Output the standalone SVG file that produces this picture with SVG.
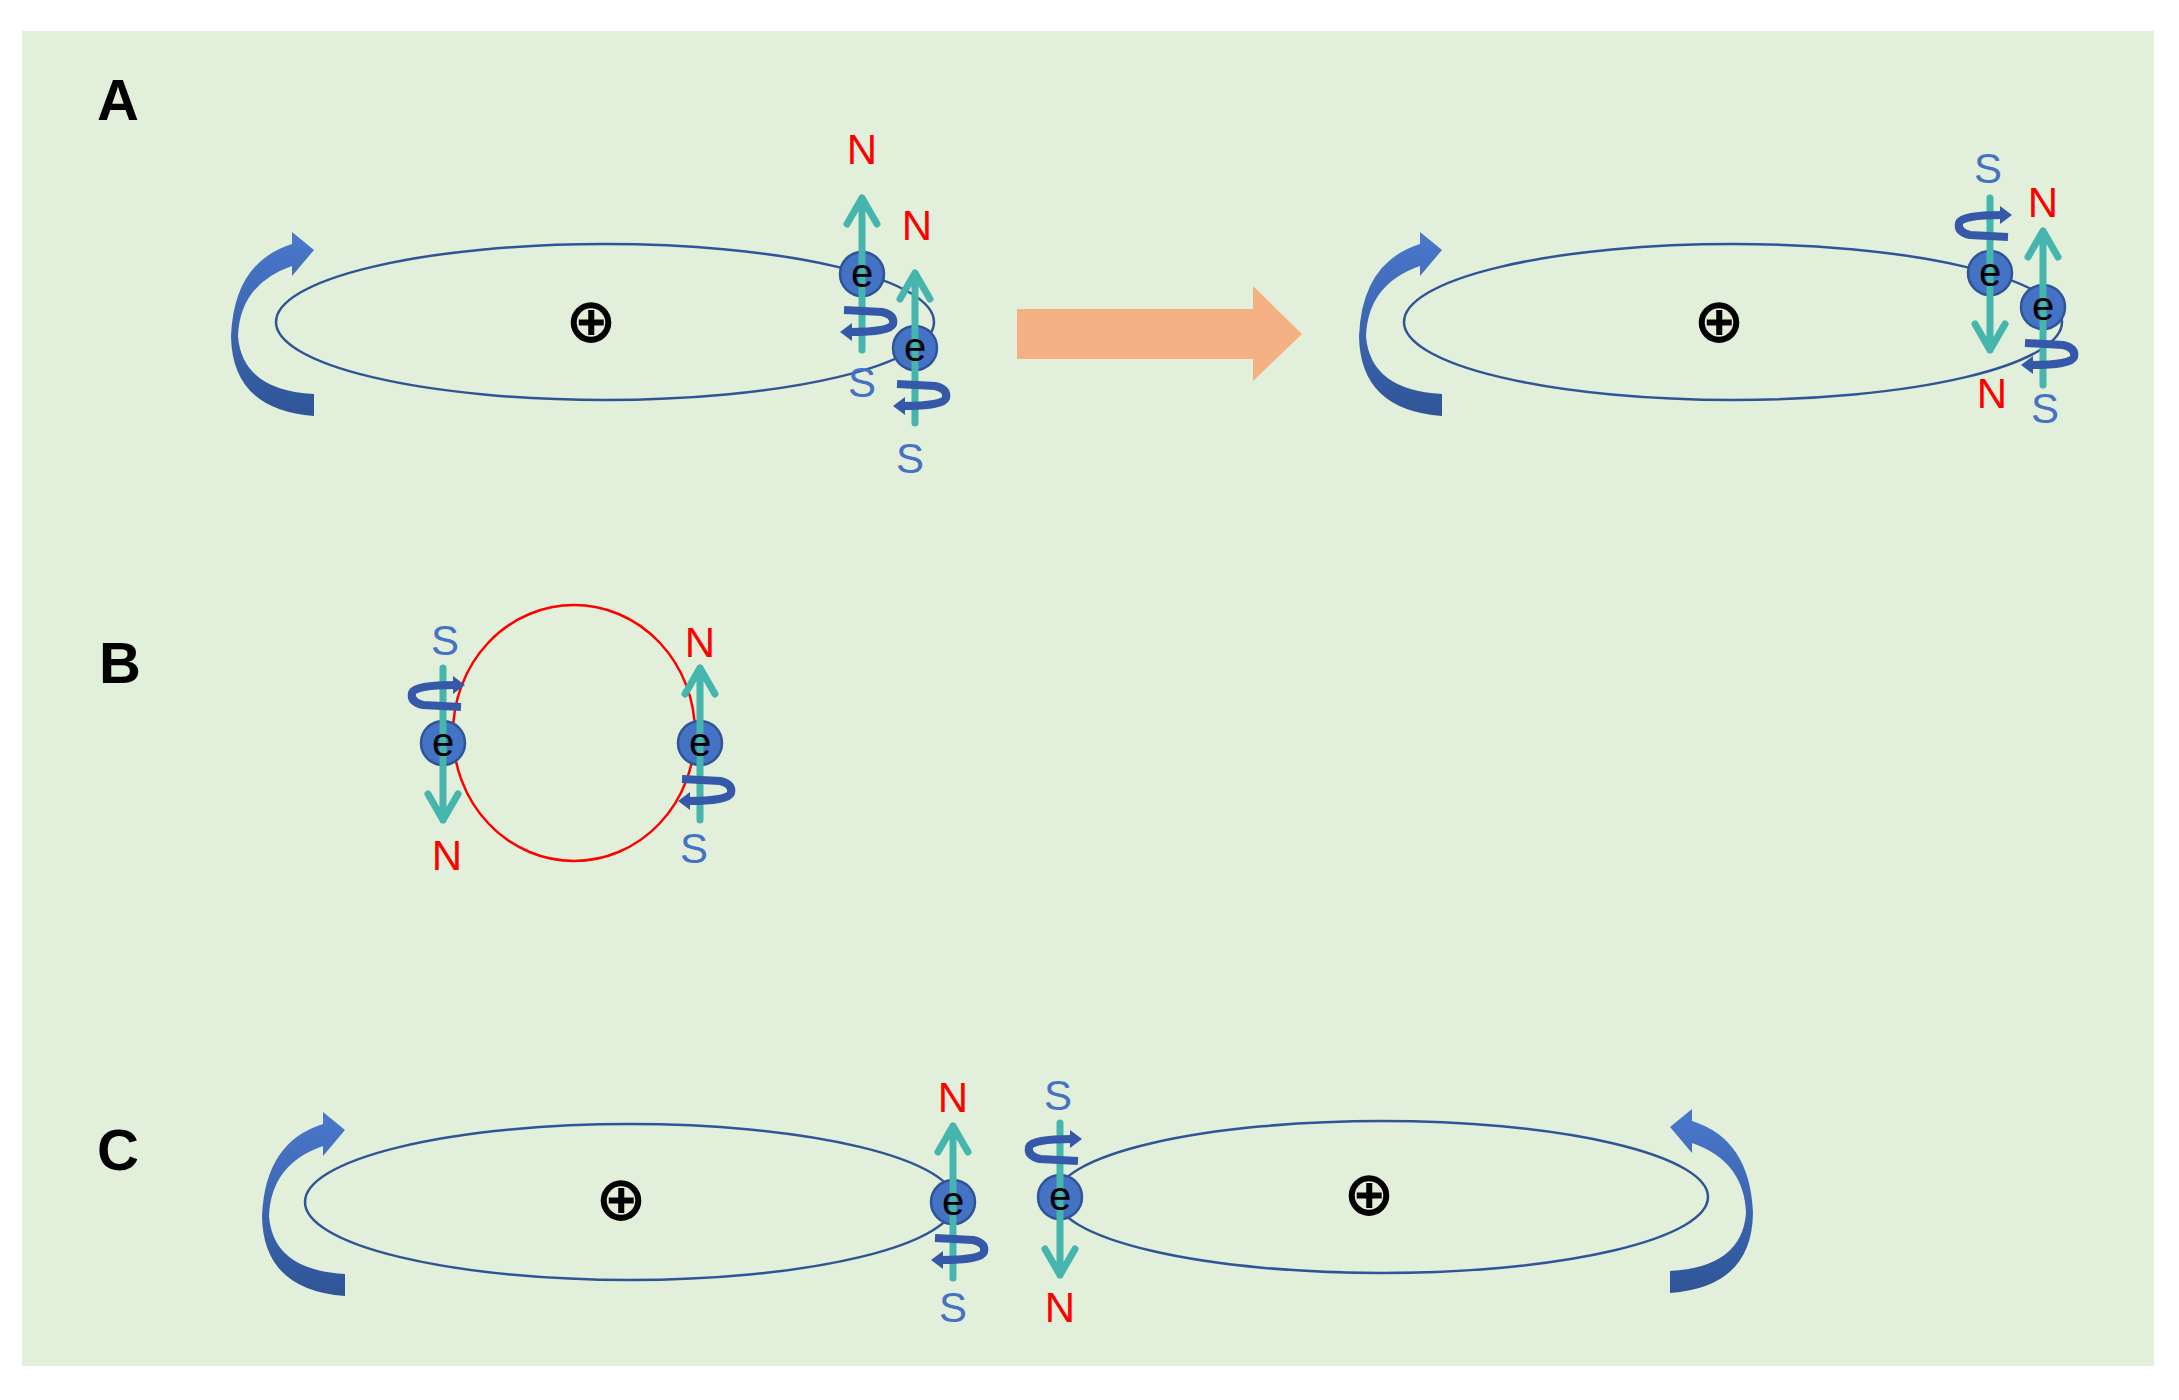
<svg xmlns="http://www.w3.org/2000/svg" xmlns:xlink="http://www.w3.org/1999/xlink" width="2179" height="1400" viewBox="0 0 2179 1400">
<style>
.orb{fill:none;stroke:#2f5597;stroke-width:2.5}
.lbl{font-family:"Liberation Sans",Arial,sans-serif;font-weight:bold;font-size:58px;fill:#000}
.N{font-family:"Liberation Sans",Arial,sans-serif;font-size:42px;fill:#ff0000;text-anchor:middle}
.S{font-family:"Liberation Sans",Arial,sans-serif;font-size:42px;fill:#4472c4;text-anchor:middle}
.e{font-family:"Liberation Sans",Arial,sans-serif;font-size:40px;fill:#000;text-anchor:middle}
.nuc{font-family:"DejaVu Sans",sans-serif;font-weight:bold;font-size:62px;fill:#000;text-anchor:middle}
.sp{fill:none;stroke:#45b5ad;stroke-width:7;stroke-linecap:round;stroke-linejoin:round}
.curl{fill:none;stroke:#3559a8;stroke-width:8;stroke-linecap:butt}
</style>
<defs>
<linearGradient id="bg" x1="0" y1="0" x2="0" y2="1"><stop offset="0" stop-color="#4a78cc"/><stop offset="1" stop-color="#2f5597"/></linearGradient>
<g id="rot">
<path d="M314,416 L314,394 Q242,390 238,336 Q240,284 292,266 L292,276 L314,250 L292,232 L292,244 Q234,262 231,336 Q232,410 314,416 Z" fill="url(#bg)"/>
</g>
<g id="el">
<circle r="22" fill="#4472c4" stroke="#2f5597" stroke-width="2.5"/>
</g>
<g id="cd">
<path class="curl" d="M-18,36 L20,38 Q33,41 31,50 Q28,58 -12,58"/>
<polygon points="-22,58 -10,49 -10,67" fill="#3559a8"/>
</g>
</defs>
<rect x="22" y="31" width="2132" height="1335" fill="#e2efda"/>
<text class="lbl" x="97" y="120">A</text>
<text class="lbl" x="99" y="683">B</text>
<text class="lbl" x="97" y="1170">C</text>
<g id="connectors">
<polygon points="1017,309 1253,309 1253,286 1302,334 1253,381 1253,359 1017,359" fill="#f4b183"/>
<use xlink:href="#rot"/>
<use xlink:href="#rot" transform="translate(1128,0)"/>
<use xlink:href="#rot" transform="translate(31,880)"/>
<use xlink:href="#rot" transform="translate(1984,877) scale(-1,1)"/>
</g>
<g id="nodeA1">
<ellipse class="orb" cx="605" cy="322" rx="329" ry="78"/>
<text class="nuc" x="591" y="342">⊕</text>
<use xlink:href="#el" x="862" y="274"/>
<path class="sp" d="M862,350 L862,198 M847,224 L862,198 L877,224"/>
<text class="e" x="862" y="287">e</text>
<use xlink:href="#cd" transform="translate(862,274)"/>
<text class="N" x="862" y="164">N</text>
<text class="S" x="862" y="397">S</text>
<use xlink:href="#el" x="915" y="348"/>
<path class="sp" d="M915,423 L915,273 M900,299 L915,273 L930,299"/>
<text class="e" x="915" y="361">e</text>
<use xlink:href="#cd" transform="translate(915,348)"/>
<text class="N" x="917" y="240">N</text>
<text class="S" x="910" y="473">S</text>
</g>
<g id="nodeA2">
<ellipse class="orb" cx="1733" cy="322" rx="329" ry="78"/>
<text class="nuc" x="1719" y="342">⊕</text>
<use xlink:href="#el" x="1990" y="273"/>
<path class="sp" d="M1990,198 L1990,350 M1975,324 L1990,350 L2005,324"/>
<text class="e" x="1990" y="286">e</text>
<use xlink:href="#cd" transform="translate(1990,273) rotate(180)"/>
<text class="S" x="1988" y="183">S</text>
<text class="N" x="1992" y="408">N</text>
<use xlink:href="#el" x="2043" y="307"/>
<path class="sp" d="M2043,385 L2043,231 M2028,257 L2043,231 L2058,257"/>
<text class="e" x="2043" y="320">e</text>
<use xlink:href="#cd" transform="translate(2043,307)"/>
<text class="N" x="2043" y="217">N</text>
<text class="S" x="2045" y="423">S</text>
</g>
<g id="nodeB">
<ellipse cx="574" cy="733" rx="121" ry="128" fill="none" stroke="#ff0000" stroke-width="2.5"/>
<use xlink:href="#el" x="443" y="743"/>
<path class="sp" d="M443,668 L443,820 M428,794 L443,820 L458,794"/>
<text class="e" x="443" y="756">e</text>
<use xlink:href="#cd" transform="translate(443,743) rotate(180)"/>
<text class="S" x="445" y="655">S</text>
<text class="N" x="447" y="870">N</text>
<use xlink:href="#el" x="700" y="743"/>
<path class="sp" d="M700,820 L700,668 M685,694 L700,668 L715,694"/>
<text class="e" x="700" y="756">e</text>
<use xlink:href="#cd" transform="translate(700,743)"/>
<text class="N" x="700" y="657">N</text>
<text class="S" x="694" y="863">S</text>
</g>
<g id="nodeC1">
<ellipse class="orb" cx="630" cy="1202" rx="325" ry="78"/>
<text class="nuc" x="621" y="1220">⊕</text>
<use xlink:href="#el" x="953" y="1202"/>
<path class="sp" d="M953,1278 L953,1126 M938,1152 L953,1126 L968,1152"/>
<text class="e" x="953" y="1215">e</text>
<use xlink:href="#cd" transform="translate(953,1202)"/>
<text class="N" x="953" y="1112">N</text>
<text class="S" x="953" y="1322">S</text>
</g>
<g id="nodeC2">
<ellipse class="orb" cx="1382" cy="1197" rx="326" ry="76"/>
<text class="nuc" x="1369" y="1215">⊕</text>
<use xlink:href="#el" x="1060" y="1197"/>
<path class="sp" d="M1060,1123 L1060,1275 M1045,1249 L1060,1275 L1075,1249"/>
<text class="e" x="1060" y="1210">e</text>
<use xlink:href="#cd" transform="translate(1060,1197) rotate(180)"/>
<text class="S" x="1058" y="1110">S</text>
<text class="N" x="1060" y="1322">N</text>
</g>
</svg>
